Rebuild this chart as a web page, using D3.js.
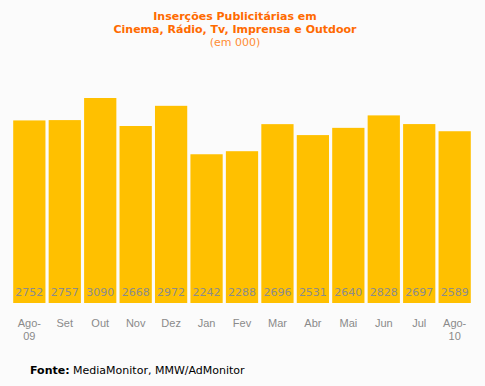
<!DOCTYPE html>
<html>
<head>
<meta charset="utf-8">
<script src="https://cdn.jsdelivr.net/npm/d3@7"></script>
<style>
  body { margin: 0; background: #fbfbfb; }
  svg { display: block; font-family: "DejaVu Sans", Verdana, sans-serif; }
</style>
</head>
<body>
<svg id="chart"></svg>
<script>
const months = ["Ago-\n09", "Set", "Out", "Nov", "Dez", "Jan", "Fev", "Mar", "Abr", "Mai", "Jun", "Jul", "Ago-\n10"];
const values = [2752, 2757, 3090, 2668, 2972, 2242, 2288, 2696, 2531, 2640, 2828, 2697, 2589];
const titleLines = ["Inserções Publicitárias em", "Cinema, Rádio, Tv, Imprensa e Outdoor"];
const subtitle = "(em 000)";

const width = 485, height = 386;
const svg = d3.select("#chart").attr("width", width).attr("height", height);

svg.append("rect").attr("width", width).attr("height", height).attr("fill", "#fbfbfb");

// escalas
let x = d3.scaleBand()
    .domain(months)
    .range([12.5, 471.5])
    .paddingInner(0.09)
    .paddingOuter(0.02);

let y = d3.scaleLinear()
    .domain([0, 3090])
    .range([303, 98]);

// titulo
svg.selectAll(".title")
    .data(titleLines)
    .join("text")
    .attr("class", "title")
    .attr("x", 235)
    .attr("y", (d, i) => 20 + i * 13)
    .attr("text-anchor", "middle")
    .attr("font-size", 11)
    .attr("font-weight", "bold")
    .attr("fill", "#ff6a00")
    .text(d => d);

svg.append("text")
    .attr("x", 235)
    .attr("y", 46)
    .attr("text-anchor", "middle")
    .attr("font-size", 11)
    .attr("fill", "#ff8c33")
    .text(subtitle);

// barras
svg.selectAll(".bar")
    .data(values)
    .join("rect")
    .attr("class", "bar")
    .attr("x", (d, i) => x(months[i]))
    .attr("y", d => y(d))
    .attr("width", x.bandwidth())
    .attr("height", d => y(0) - y(d))
    .attr("fill", "#ffc000");

svg.selectAll(".val")
    .data(values)
    .join("text")
    .attr("class", "val")
    .attr("x", (d, i) => x(months[i]) + x.bandwidth() / 2)
    .attr("y", 296)
    .attr("text-anchor", "middle")
    .attr("font-size", 11)
    .attr("fill", "#8c8c8c")
    .text(d => d);

// eixo x
let axis = svg.append("g")
    .attr("transform", "translate(0," + 303 + ")")
    .call(d3.axisBottom(x).tickSize(0).tickPadding(0).tickFormat(""));
axis.select(".domain").remove();

axis.selectAll(".tick").each(function(d) {
    let t = d3.select(this).append("text")
        .attr("text-anchor", "middle")
        .attr("font-size", 11)
        .attr("fill", "#8a8a8a");
    d.split("\n").forEach((line, i) => {
        t.append("tspan").attr("x", 0).attr("y", 24 + i * 13).text(line);
    });
});

// fonte
let src = svg.append("text")
    .attr("x", 30)
    .attr("y", 374)
    .attr("font-size", 11)
    .attr("fill", "#000");
src.append("tspan").attr("font-weight", "bold").text("Fonte:");
src.append("tspan").text(" MediaMonitor, MMW/AdMonitor");
</script>
</body>
</html>
